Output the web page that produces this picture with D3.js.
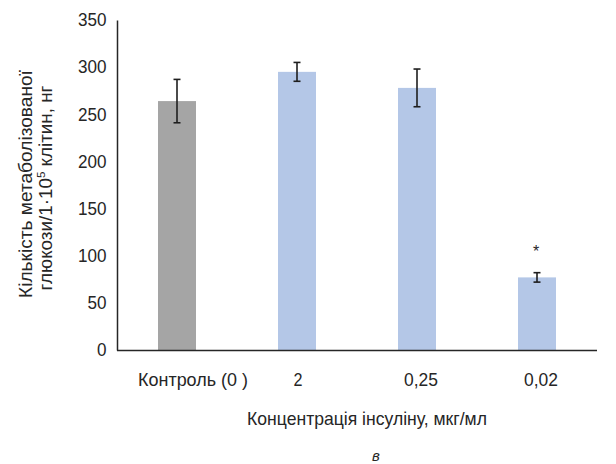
<!DOCTYPE html>
<html>
<head>
<meta charset="utf-8">
<script src="https://cdn.jsdelivr.net/npm/d3@7"></script>
<style>
  html, body { margin: 0; padding: 0; background: #fff; }
  svg text { font-family: "Liberation Sans", Arial, sans-serif; fill: #262626; }
</style>
</head>
<body>
<svg id="chart" width="616" height="464"></svg>
<script>
// Insulin concentration groups and measured glucose metabolism
const categories = ["Контроль (0 )", "2", "0,25", "0,02"];
const values = [264, 295, 278, 77];
const errors = [23, 10, 20, 5];
const significant = [false, false, false, true];
const barColors = ["#a5a5a5", "#b4c7e7", "#b4c7e7", "#b4c7e7"];
const yTicks = [0, 50, 100, 150, 200, 250, 300, 350];

const svg = d3.select("#chart");
const plotLeft = 117, plotRight = 597, plotTop = 20, plotBottom = 350;

const x = d3.scaleBand().domain(categories).range([plotLeft, plotRight]).padding(0);
const y = d3.scaleLinear().domain([0, 350]).range([plotBottom, plotTop]);
const barW = 38;
const cx = d => x(d) + x.bandwidth() / 2;

// condensed-looking text: place a label and squeeze it horizontally to a width
function label(parent, tx, ty, rot, size, width, build) {
  const g = parent.append("g");
  const t = g.append("text").attr("text-anchor", "middle").attr("font-size", size);
  build(t);
  const w = t.node().getComputedTextLength();
  const k = width ? width / w : 1;
  g.attr("transform", `translate(${tx},${ty}) rotate(${rot}) scale(${k},1)`);
  return t;
}

// bars
svg.selectAll("rect.bar")
  .data(categories)
  .join("rect")
  .attr("class", "bar")
  .attr("x", d => cx(d) - barW / 2)
  .attr("width", barW)
  .attr("y", (d, i) => y(values[i]))
  .attr("height", (d, i) => y(0) - y(values[i]))
  .attr("fill", (d, i) => barColors[i]);

// error bars
const eb = svg.selectAll("g.err").data(categories).join("g").attr("class", "err")
  .attr("stroke", "#1e1e1e").attr("stroke-width", 1.6);
eb.append("line")
  .attr("x1", d => cx(d)).attr("x2", d => cx(d))
  .attr("y1", (d, i) => y(values[i] + errors[i]))
  .attr("y2", (d, i) => y(values[i] - errors[i]));
[1, -1].forEach(s => {
  eb.append("line")
    .attr("x1", d => cx(d) - 3.5).attr("x2", d => cx(d) + 3.5)
    .attr("y1", (d, i) => y(values[i] + s * errors[i]))
    .attr("y2", (d, i) => y(values[i] + s * errors[i]));
});

// significance marks
svg.selectAll("text.sig")
  .data(categories.filter((d, i) => significant[i]))
  .join("text")
  .attr("class", "sig")
  .attr("x", d => cx(d) - 1)
  .attr("y", d => { const i = categories.indexOf(d); return y(values[i] + errors[i]) - 16; })
  .attr("text-anchor", "middle")
  .attr("font-size", 16)
  .text("*");

// y axis: line and labels only
const yAxis = svg.append("g")
  .attr("transform", `translate(${plotLeft},0)`)
  .call(d3.axisLeft(y).tickValues(yTicks).tickSize(0).tickPadding(11));
yAxis.select(".domain").attr("stroke", "#262626").attr("stroke-width", 1.5);
yAxis.selectAll("text").attr("font-size", 18).attr("fill", "#262626")
  .style("font-family", "'Liberation Sans', Arial, sans-serif")
  .attr("transform", "scale(0.95,1)");

// x axis line
const xAxis = svg.append("g")
  .attr("transform", `translate(0,${plotBottom})`)
  .call(d3.axisBottom(x).tickSize(0).tickFormat(""));
xAxis.select(".domain").attr("stroke", "#262626").attr("stroke-width", 1.5)
  .attr("d", `M${plotLeft},0.5H${plotRight}`);

// category labels
const labelWidths = [110, 9, 34, 34];
const labelShift = [16, 1, 4, 4];
categories.forEach((c, i) => {
  label(svg, cx(c) + labelShift[i], 386, 0, 18, labelWidths[i], t => t.text(c));
});

// axis titles
label(svg, 367, 425, 0, 18, 240, t => t.text("Концентрація інсуліну, мкг/мл"));

label(svg, 32, 184, -90, 18, 228, t => t.text("Кількість метаболізованої"));
label(svg, 52, 188, -90, 18, 205, t => {
  t.append("tspan").text("глюкози/1·10");
  t.append("tspan").attr("font-size", 11).attr("dy", -7).text("5");
  t.append("tspan").attr("dy", 7).text(" клітин, нг");
});

// panel letter
svg.append("text")
  .attr("x", 376).attr("y", 461)
  .attr("text-anchor", "middle")
  .attr("font-size", 15)
  .attr("font-style", "italic")
  .text("в");
</script>
</body>
</html>
